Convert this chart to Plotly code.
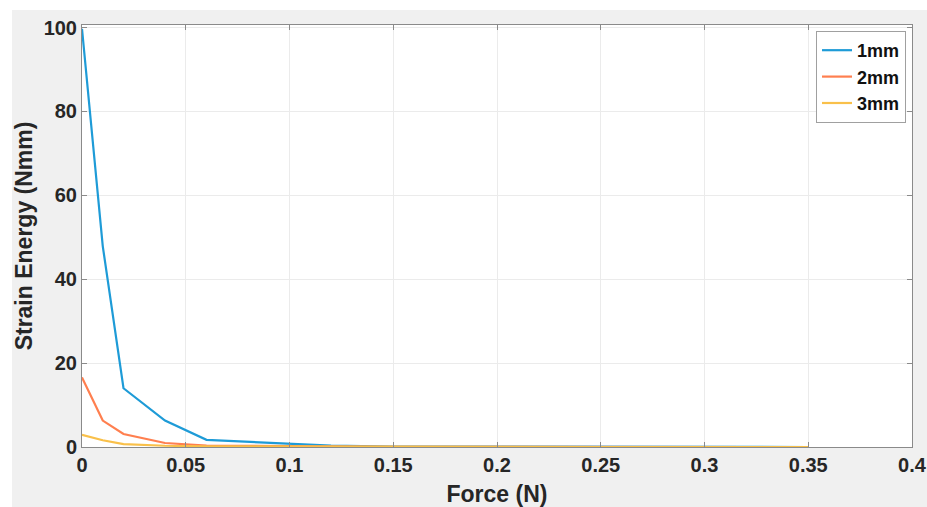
import plotly.graph_objects as go

force = [0, 0.01, 0.02, 0.04, 0.06, 0.1, 0.12, 0.15, 0.2, 0.25, 0.3, 0.35]
e1mm = [99.7, 47.9, 14.0, 6.3, 1.7, 0.7, 0.35, 0.1, 0.05, 0.02, 0.01, 0.0]
e2mm = [16.6, 6.3, 3.1, 0.95, 0.35, 0.15, 0.1, 0.05, 0.02, 0.01, 0.0, 0.0]
e3mm = [2.9, 1.6, 0.7, 0.3, 0.15, 0.08, 0.05, 0.02, 0.01, 0.0, 0.0, 0.0]
names = ["1mm", "2mm", "3mm"]
colors = ["#1E9BD7", "#FF7F4F", "#F9C04A"]
xticks = [0, 0.05, 0.1, 0.15, 0.2, 0.25, 0.3, 0.35, 0.4]
xticklabels = ["0", "0.05", "0.1", "0.15", "0.2", "0.25", "0.3", "0.35", "0.4"]
yticks = [0, 20, 40, 60, 80, 100]

fig = go.Figure()
for name, ys, c in zip(names, [e1mm, e2mm, e3mm], colors):
    fig.add_trace(go.Scatter(x=force, y=ys, mode="lines", name=name,
                             line=dict(color=c, width=2.2)))

FAM = "Liberation Sans, Arial, sans-serif"
tick_font = dict(family=FAM, size=20, color="#262626", weight="bold")
title_font = dict(family=FAM, size=23, color="#262626", weight="bold")
axis_common = dict(showgrid=True, gridcolor="#ebebeb", gridwidth=1,
                   showline=True, linecolor="#8a8a8a", linewidth=1, mirror="ticks",
                   ticks="inside", ticklen=5, tickcolor="#8a8a8a",
                   zeroline=False, tickfont=tick_font, ticklabeloverflow="allow")

L, R, T, B = 82, 15, 25, 60
fig.update_layout(
    width=927, height=507,
    margin=dict(l=L, r=R, t=T, b=B, autoexpand=False),
    paper_bgcolor="#f0f0f0", plot_bgcolor="white",
    xaxis=dict(range=[0, 0.4], tickvals=xticks, ticktext=xticklabels,
               title=dict(text="Force (N)", font=title_font, standoff=13),
               **axis_common),
    yaxis=dict(range=[0, 100.6], tickvals=yticks,
               title=dict(text="Strain Energy (Nmm)", font=title_font, standoff=4),
               **axis_common),
    legend=dict(x=0.9928, y=0.9858, xanchor="right", yanchor="top",
                bgcolor="white", bordercolor="#a0a0a0", borderwidth=1,
                font=dict(family=FAM, size=18, color="#111111", weight="bold"),
                tracegroupgap=0, itemwidth=30),
    showlegend=True,
)

# white strips at top and left edges of the figure
W, H = float(927 - L - R), float(507 - T - B)
fig.add_shape(type="rect", xref="paper", yref="paper",
              x0=-L / W, x1=(927 - L) / W, y0=(H + T - 10) / H, y1=(H + T) / H,
              fillcolor="white", line=dict(width=0), layer="below")
fig.add_shape(type="rect", xref="paper", yref="paper",
              x0=-L / W, x1=(12 - L) / W, y0=-B / H, y1=(H + T) / H,
              fillcolor="white", line=dict(width=0), layer="below")

post = ("document.documentElement.style.overflow='hidden';"
        "document.body.style.overflow='hidden';"
        "document.body.style.margin='0';")
fig.write_html("out.html", post_script=post)
